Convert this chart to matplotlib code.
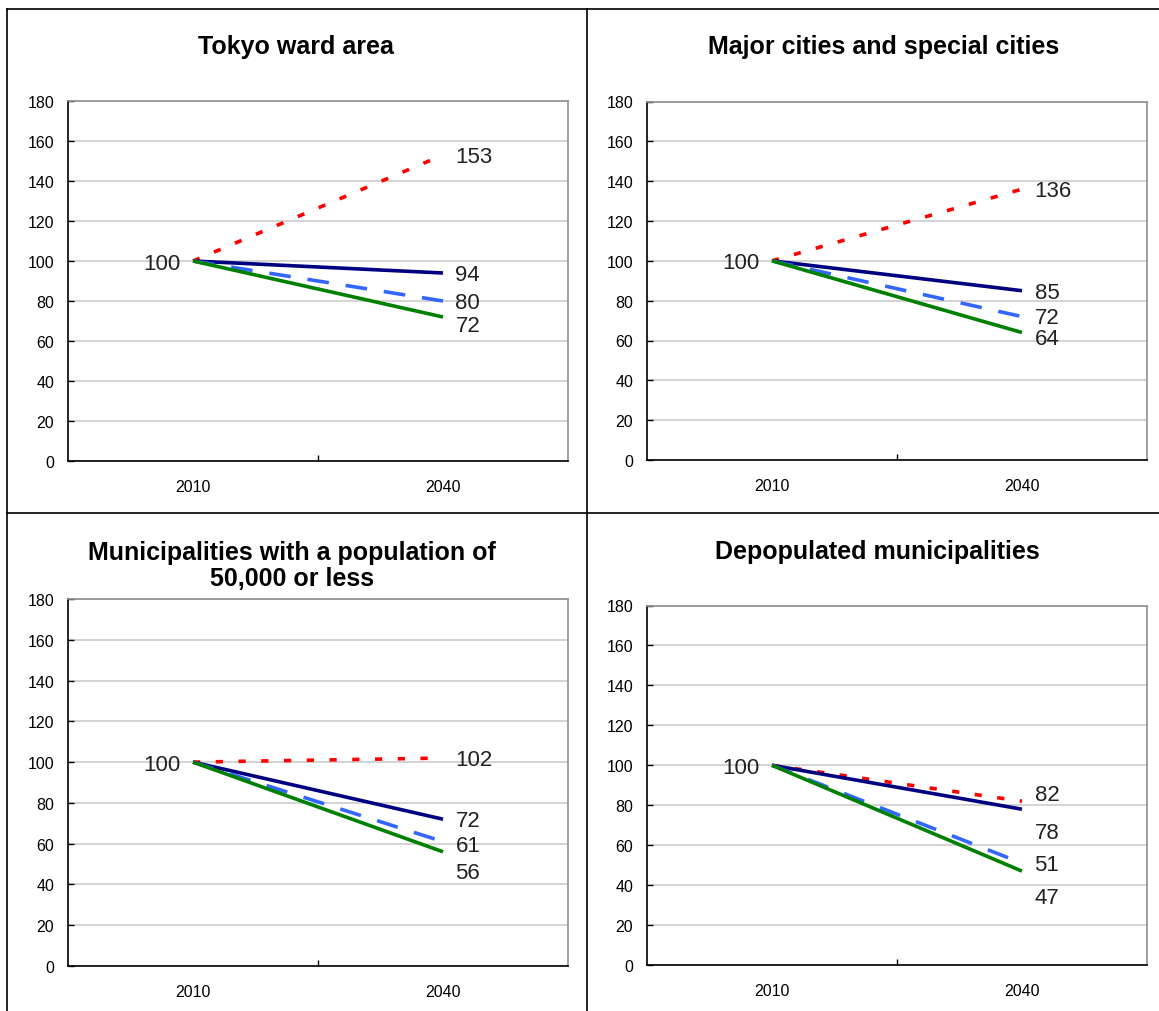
import matplotlib
matplotlib.use('Agg')
import matplotlib.pyplot as plt
from matplotlib.lines import Line2D

# Population index (2010 = 100) by type of municipality
years = ['2010', '2040']
titles = [
    'Tokyo ward area',
    'Major cities and special cities',
    'Municipalities with a population of\n50,000 or less',
    'Depopulated municipalities',
]
base = 100
# 2040 values per panel, order: red, navy, blue, green
red_2040 = [153, 136, 102, 82]
navy_2040 = [94, 85, 72, 78]
blue_2040 = [80, 72, 61, 51]
green_2040 = [72, 64, 56, 47]
y_ticks = [0, 20, 40, 60, 80, 100, 120, 140, 160, 180]

W, H = 1159, 1012
fig = plt.figure(figsize=(W / 100, H / 100), dpi=100)

# axes boxes in pixels: left, top, right, bottom
boxes = [(68, 102, 568, 462), (647, 102.5, 1147, 461),
         (68, 600, 568, 967), (647, 606.5, 1147, 966)]
title_pos = [(296, 47), (884, 47), (292, 566), (877, 552)]
# label nudges in pixels (positive = down), order red, navy, blue, green
nudges = [(0, 0, 0, 7), (0, 0, 0, 5), (0, 0, 2, 19), (-8, 22, 0, 25)]

styles = [
    dict(color='#FF0000', dashes=(2, 4.3)),
    dict(color='#000080'),
    dict(color='#3366FF', dashes=(6, 4.7)),
    dict(color='#008000'),
]

font_list = ['Liberation Sans', 'DejaVu Sans']
tick_font = dict(family=font_list, size=11.5)

for i in range(4):
    l, t, r, b = boxes[i]
    ax = fig.add_axes([l / W, 1 - b / H, (r - l) / W, (b - t) / H])
    ends = [red_2040[i], navy_2040[i], blue_2040[i], green_2040[i]]
    for val, st in zip(ends, styles):
        ax.plot([0, 1], [base, val], lw=2.6, solid_capstyle='butt',
                dash_capstyle='butt', **st)
    ax.set_xlim(-0.5, 1.5)
    ax.set_ylim(0, 180)
    ax.set_yticks(y_ticks)
    ax.grid(axis='y', color='#C8C8C8', lw=1.1)
    ax.set_axisbelow(True)
    ax.set_xticks([0.5])
    ax.set_xticklabels([])
    ax.set_xticks([0, 1], minor=True)
    ax.set_xticklabels(years, minor=True, fontdict=tick_font)
    ax.tick_params(axis='x', which='major', direction='in', length=4, width=1)
    ax.tick_params(axis='x', which='minor', length=0, pad=13)
    ax.tick_params(axis='y', direction='in', length=4, width=1, pad=10)
    for lab in ax.get_yticklabels():
        lab.set_fontfamily(font_list)
        lab.set_fontsize(11.5)
    for s in ['left', 'bottom']:
        ax.spines[s].set_color('black')
        ax.spines[s].set_linewidth(1.2)
    for s in ['top', 'right']:
        ax.spines[s].set_color('#909090')
        ax.spines[s].set_linewidth(1.2)

    # data labels
    ax.annotate(str(base), (0, base), xytext=(-9, -1.5), textcoords='offset points',
                ha='right', va='center', fontsize=16, family=font_list, color='#222222')
    for val, dy in zip(ends, nudges[i]):
        ax.annotate(str(val), (1, val), xytext=(9, -dy * 0.72 - 1),
                    textcoords='offset points', ha='left', va='center',
                    fontsize=16, family=font_list, color='#222222')

    tx, ty = title_pos[i]
    fig.text(tx / W, 1 - ty / H, titles[i], ha='center', va='center',
             fontsize=18, fontweight='bold', family=font_list,
             linespacing=1.1)

# panel borders
border = dict(color='black', lw=1.2, transform=fig.transFigure)
fig.add_artist(Line2D([7 / W, 7 / W], [0, 1 - 10 / H], **border))
fig.add_artist(Line2D([7 / W, 1], [1 - 10 / H, 1 - 10 / H], **border))
fig.add_artist(Line2D([587 / W, 587 / W], [0, 1 - 10 / H], **border))
fig.add_artist(Line2D([7 / W, 1], [1 - 514 / H, 1 - 514 / H], **border))

fig.savefig('out.png', dpi=100)
